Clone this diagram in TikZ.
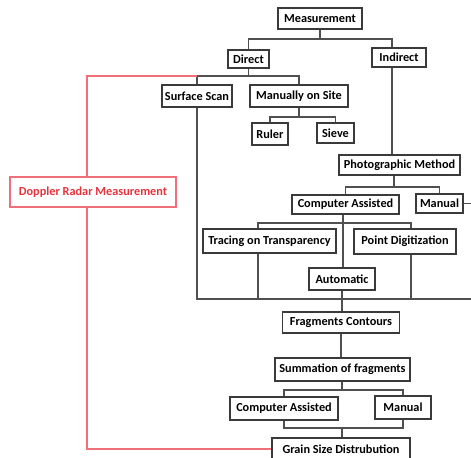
\documentclass[tikz,border=0pt]{standalone}
\usepackage{fontspec}
\setmainfont{Carlito}
\definecolor{boxgray}{HTML}{3A3A3A}
\definecolor{linegray}{HTML}{505050}
\definecolor{dopred}{HTML}{E8323C}
\definecolor{dopline}{HTML}{F0707A}
\tikzset{
box/.style={draw=boxgray, line width=.9pt, fill=white, inner sep=0pt, font=\fontsize{9.2}{11}\selectfont\bfseries},
link/.style={draw=linegray, line width=.8pt},
redlink/.style={draw=dopline, line width=.8pt}
}

\begin{document}
\begin{tikzpicture}[x=.75pt, y=-.75pt]
\useasboundingbox (0,0) rectangle (471,457);
\node[box, minimum width=63pt, minimum height=15.75pt] (meas) at (320,18.5) {Measurement};
\node[box, minimum width=30.75pt, minimum height=13.5pt] (direct) at (248.5,59) {Direct};
\node[box, minimum width=40.5pt, minimum height=14.25pt] (indirect) at (399,57.5) {Indirect};
\node[box, minimum width=52.5pt, minimum height=16.5pt] (surf) at (197,96) {Surface Scan};
\node[box, minimum width=73.5pt, minimum height=16.5pt] (site) at (299,96) {Manually on Site};
\node[box, minimum width=27pt, minimum height=16.5pt] (ruler) at (270,134) {Ruler};
\node[box, minimum width=27.75pt, minimum height=15pt] (sieve) at (335.5,133) {Sieve};
\node[box, minimum width=90.75pt, minimum height=15pt] (photo) at (399.5,165) {Photographic Method};
\node[box, minimum width=80.25pt, minimum height=14.25pt] (compA) at (345.5,204.5) {Computer Assisted};
\node[box, minimum width=35.25pt, minimum height=14.25pt] (manA) at (439.5,203.5) {Manual};
\node[box, minimum width=99.75pt, minimum height=18pt] (trace) at (269.5,241) {Tracing on Transparency};
\node[box, minimum width=76.5pt, minimum height=18.75pt] (point) at (405,241.5) {Point Digitization};
\node[box, minimum width=49.5pt, minimum height=16.5pt] (auto) at (342,279) {Automatic};
\node[box, minimum width=87.75pt, minimum height=15.75pt] (frag) at (341,322.5) {Fragments Contours};
\node[box, minimum width=101.25pt, minimum height=17.25pt] (summ) at (342.5,369.5) {Summation of fragments};
\node[box, minimum width=81pt, minimum height=17.25pt] (compB) at (284,408.5) {Computer Assisted};
\node[box, minimum width=42pt, minimum height=17.25pt] (manB) at (403,407.5) {Manual};
\node[box, minimum width=103.5pt, minimum height=16.5pt] (grain) at (341,449) {Grain Size Distrubution};
\node[box, draw=dopline, text=dopred, minimum width=124.5pt, minimum height=22.5pt] (doppler) at (93,192) {Doppler Radar Measurement};
\coordinate (j1) at (320,39);
\coordinate (iL) at (392,39);
\coordinate (j2) at (248.5,76);
\coordinate (r1) at (87,76);
\coordinate (j3) at (299,117);
\coordinate (j4) at (394,187);
\coordinate (j5) at (343,223);
\coordinate (tL) at (258,223);
\coordinate (pL) at (411,223);
\coordinate (busR) at (471,299);
\coordinate (j6) at (342,390);
\coordinate (j7) at (342,428);
\draw[link] (meas.south) -- (j1);
\draw[link] (direct.north) |- (iL) -- (indirect.north -| iL);
\draw[link] (direct.south) -- (j2);
\draw[link] (surf.north) |- (j2) -| (site.north);
\draw[link] (surf.south) |- (busR);
\draw[link] (site.south) -- (j3);
\draw[link] (ruler.north) |- (j3) -| (sieve.north);
\draw[link] (indirect.south -| iL) -- (photo.north -| iL);
\draw[link] (photo.south -| j4) -- (j4);
\draw[link] (compA.north) |- (j4) -| (manA.north);
\draw[link] (manA.east) -- (manA.east -| busR);
\draw[link] (compA.south -| j5) -- (auto.north -| j5);
\draw[link] (trace.north -| tL) -- (tL) -- (pL) -- (point.north -| pL);
\draw[link] (trace.south -| tL) -- (tL |- busR);
\draw[link] (point.south -| pL) -- (pL |- busR);
\draw[link] (auto.south) -- (frag.north -| auto.south);
\draw[link] (frag.south) -- (summ.north -| frag.south);
\draw[link] (summ.south -| j6) -- (j6);
\draw[link] (compB.north) |- (j6) -| (manB.north);
\draw[link] (compB.south) |- (j7) -| (manB.south);
\draw[link] (j7) -- (grain.north -| j7);
\draw[redlink] (surf.north |- j2) -- (r1) -- (doppler.north -| r1);
\draw[redlink] (doppler.south -| r1) |- (grain.west);
\end{tikzpicture}
\end{document}
